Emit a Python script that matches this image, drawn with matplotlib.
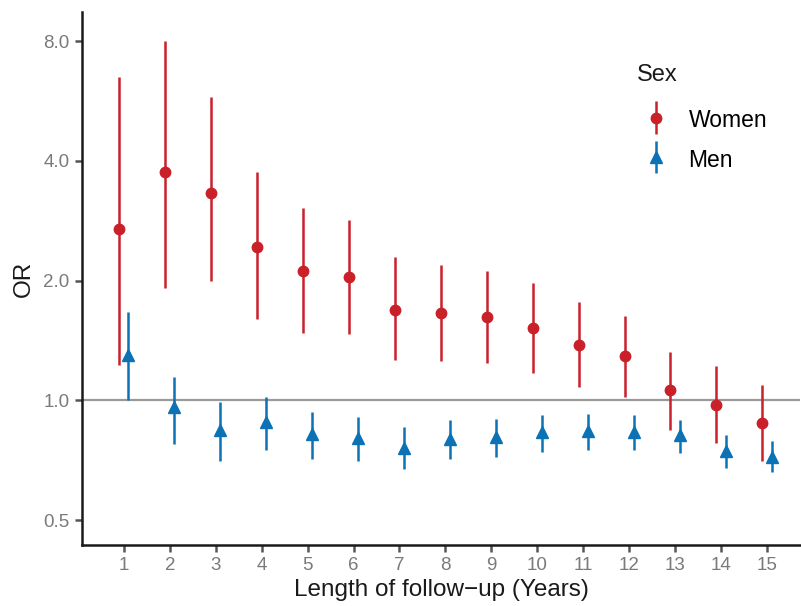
import matplotlib
matplotlib.use("Agg")
import matplotlib.pyplot as plt
from matplotlib.legend_handler import HandlerErrorbar
import numpy as np

plt.rcParams['font.family'] = ['Liberation Sans', 'DejaVu Sans']

years = np.arange(1, 16)

# odds ratios with confidence limits
women_or = [2.69, 3.75, 3.33, 2.43, 2.11, 2.04, 1.69, 1.66, 1.62, 1.52, 1.38, 1.29, 1.06, 0.975, 0.876]
women_lo = [1.23, 1.92, 2.00, 1.60, 1.48, 1.47, 1.26, 1.255, 1.24, 1.17, 1.08, 1.02, 0.84, 0.78, 0.704]
women_hi = [6.49, 8.02, 5.79, 3.74, 3.04, 2.84, 2.29, 2.19, 2.12, 1.97, 1.77, 1.63, 1.325, 1.22, 1.09]

men_or = [1.30, 0.96, 0.84, 0.882, 0.822, 0.806, 0.761, 0.80, 0.811, 0.833, 0.839, 0.833, 0.817, 0.745, 0.722]
men_lo = [1.00, 0.775, 0.704, 0.75, 0.711, 0.703, 0.674, 0.711, 0.722, 0.743, 0.752, 0.752, 0.736, 0.676, 0.659]
men_hi = [1.67, 1.144, 0.99, 1.02, 0.937, 0.908, 0.859, 0.891, 0.90, 0.917, 0.924, 0.917, 0.894, 0.817, 0.792]

yticks = [0.5, 1.0, 2.0, 4.0, 8.0]

red = '#C9202A'
blue = '#0A72B5'
grey = '#7A7A7A'

fig = plt.figure(figsize=(8.01, 6.06), dpi=100)
ax = fig.add_axes([0.1024, 0.1007, 0.8964, 0.8793])

ax.axhline(1.0, color='#9A9A9A', lw=1.6, zorder=1)

w = np.array(women_or)
m = np.array(men_or)
ax.errorbar(years - 0.1, w, yerr=[w - np.array(women_lo), np.array(women_hi) - w],
            fmt='o', color=red, ms=7.5, elinewidth=1.8, capsize=0, label='Women', zorder=3)
ax.errorbar(years + 0.1, m, yerr=[m - np.array(men_lo), np.array(men_hi) - m],
            fmt='^', color=blue, ms=8.5, elinewidth=1.8, capsize=0, label='Men', zorder=3)

ax.set_yscale('log', base=2)
ax.set_ylim(0.433, 9.46)
ax.set_xlim(0.09, 15.72)
ax.set_yticks(yticks)
ax.set_yticklabels([f'{v:.1f}' for v in yticks])
ax.minorticks_off()
ax.set_xticks(years)
ax.set_xticklabels([str(y) for y in years])

ax.tick_params(axis='both', colors='#555555', labelcolor=grey, labelsize=13.5,
               length=5, width=1.8, pad=4)

for s in ['top', 'right']:
    ax.spines[s].set_visible(False)
for s in ['left', 'bottom']:
    ax.spines[s].set_linewidth(1.8)
    ax.spines[s].set_color('#1A1A1A')

ax.set_xlabel('Length of follow\u2212up (Years)', fontsize=17.5, color='#1A1A1A', labelpad=3)
ax.set_ylabel('OR', fontsize=17.5, color='#1A1A1A', labelpad=6)

# legend title drawn separately so its gap to the keys can match
ax.text(0.773, 0.882, 'Sex', transform=ax.transAxes, fontsize=17, color='#1A1A1A',
        ha='left', va='center')
ax.legend(loc='upper left', bbox_to_anchor=(0.768, 0.842), frameon=False, borderpad=0,
          fontsize=16.5, handlelength=1.0, handleheight=1.2, handletextpad=0.9,
          labelspacing=0.67, handler_map={type(ax.containers[0]): HandlerErrorbar(yerr_size=0.7)})

fig.savefig('out.png', dpi=100)
